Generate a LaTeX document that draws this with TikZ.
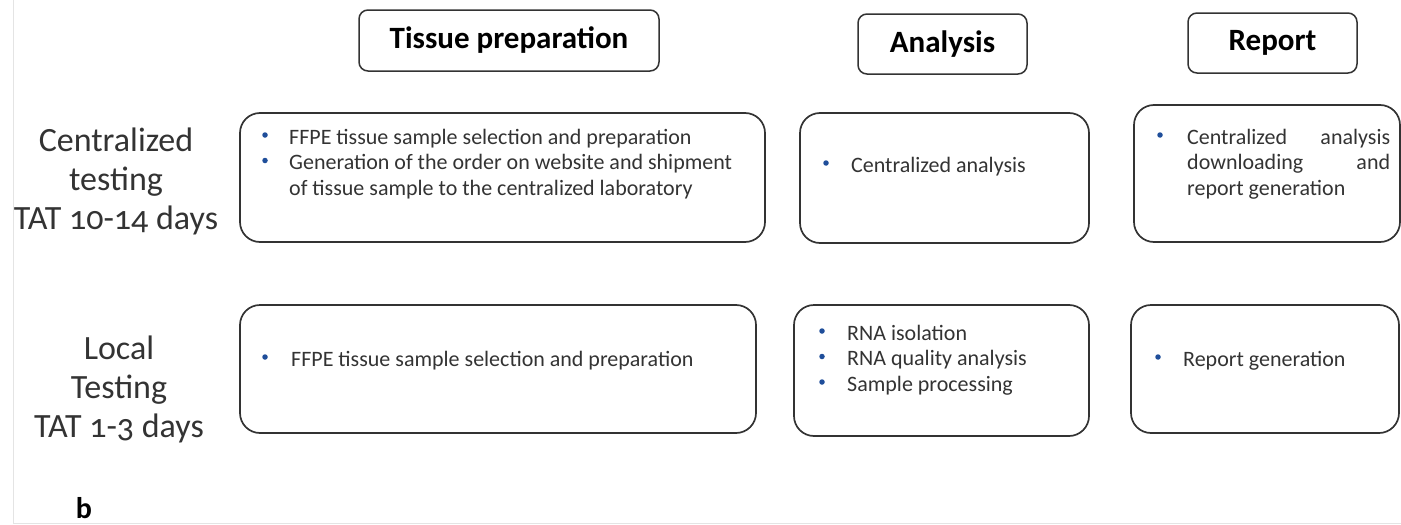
\documentclass[tikz,border=0pt]{standalone}
\usepackage{fontspec}
\setmainfont{Carlito}[Numbers=OldStyle]
\definecolor{txt}{HTML}{333333}
\definecolor{edge}{HTML}{333333}
\definecolor{bul}{HTML}{1F4E9A}
\definecolor{frame}{HTML}{E4E4E4}
\tikzset{
  bigbox/.style={draw=edge, line width=1.7pt, rounded corners=20pt, inner sep=0pt},
  headbox/.style={draw=edge, line width=1.5pt, rounded corners=9pt, inner sep=0pt, font=\fontsize{31}{36}\selectfont\bfseries, text=black},
  rowlabel/.style={align=center, font=\fontsize{34}{39}\selectfont, text=txt},
  body/.style={anchor=base west, inner sep=0pt, font=\fontsize{22}{25.5}\selectfont, text=txt},
  dot/.style={circle, fill=bul, inner sep=0pt, minimum size=5.5pt}
}
\begin{document}
\begin{tikzpicture}[x=1pt,y=-1pt]
\useasboundingbox (0,0) rectangle (1401,525);
% faint frame of the figure
\draw[frame, line width=1pt] (13,0) -- (13,523) -- (1401,523);
% headers
\node[headbox, minimum width=300pt, minimum height=61pt] (h1) at (509,40.5) {Tissue preparation};
\node[headbox, minimum width=169pt, minimum height=60pt] (h2) at (942.5,44) {Analysis};
\node[headbox, minimum width=169pt, minimum height=60pt] (h3) at (1272.5,43) {Report};
% row labels
\node[rowlabel] (r1) at (116,181) {Centralized\\testing\\TAT 10-14 days};
\node[rowlabel] (r2) at (119,389) {Local\\Testing\\TAT 1-3 days};
% row 1 boxes
\node[bigbox, minimum width=525pt, minimum height=129pt] (b11) at (502.5,177.5) {};
\node[bigbox, minimum width=289pt, minimum height=130pt] (b12) at (944.5,178) {};
\node[bigbox, minimum width=266pt, minimum height=137pt] (b13) at (1267,173.5) {};
% row 2 boxes
\node[bigbox, minimum width=516pt, minimum height=128pt] (b21) at (498,369) {};
\node[bigbox, minimum width=295pt, minimum height=131pt] (b22) at (941.5,370.5) {};
\node[bigbox, minimum width=268pt, minimum height=128pt] (b23) at (1265,369) {};
% box 11
\node[dot] (d111) at (265,135) {};
\node[body] (t111) at (289,144) {FFPE tissue sample selection and preparation};
\node[dot] (d112) at (265,160.5) {};
\node[body] (t112) at (289,169.5) {Generation of the order on website and shipment};
\node[body] (t113) at (289,195) {of tissue sample to the centralized laboratory};
% box 12
\node[dot] (d121) at (826,163) {};
\node[body] (t121) at (851,172) {Centralized analysis};
% box 13
\node[dot] (d131) at (1160,135) {};
\node[body] (t131) at (1187,144) {\makebox[203pt][s]{Centralized\hfill analysis}};
\node[body] (t132) at (1187,169.5) {\makebox[203pt][s]{downloading\hfill and}};
\node[body] (t133) at (1187,195) {report generation};
% box 21
\node[dot] (d211) at (265,357) {};
\node[body] (t211) at (291,366) {FFPE tissue sample selection and preparation};
% box 22
\node[dot] (d221) at (822,331) {};
\node[body] (t221) at (847,340) {RNA isolation};
\node[dot] (d222) at (822,356.5) {};
\node[body] (t222) at (847,365.5) {RNA quality analysis};
\node[dot] (d223) at (822,382) {};
\node[body] (t223) at (847,391) {Sample processing};
% box 23
\node[dot] (d231) at (1158,357) {};
\node[body] (t231) at (1183,366) {Report generation};
% panel letter
\node[font=\fontsize{30}{32}\selectfont\bfseries, text=black] (lb) at (84,508) {b};
\end{tikzpicture}
\end{document}
